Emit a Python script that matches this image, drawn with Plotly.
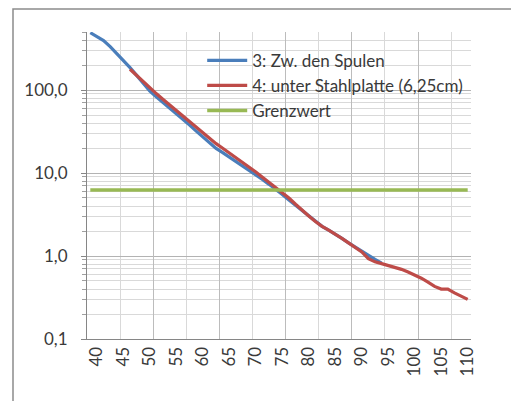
import plotly.graph_objects as go
import math

# categories (Abstand), step 1.25
categories = [38.75 + 1.25 * i for i in range(58)]

blue_vals = [490, 440, 395, 333, 276, 227, 186, 150, 121, 97,
             82, 70.5, 60.5, 52, 44.6, 37.8, 32, 27, 22.9, 19.8,
             17.6, 15.6, 13.8, 12.3, 10.9, 9.5, 8.35, 7.3, 6.4, 5.5,
             4.74, 4.09, 3.52, 3.03, 2.61, 2.28, 2.05, 1.84, 1.63, 1.44,
             1.28, 1.13, 1.01, 0.91, 0.82]

red_vals = [None] * 6 + [178, 149, 125, 105,
             90, 77, 66, 56.7, 48.6, 41.6, 35.6, 30.5, 26.1, 22.6,
             19.9, 17.5, 15.4, 13.5, 11.9, 10.3, 8.9, 7.7, 6.8, 5.9,
             4.99, 4.2, 3.54, 3.03, 2.61, 2.28, 2.05, 1.84, 1.63, 1.44,
             1.28, 1.12, 0.93, 0.85, 0.81, 0.77, 0.73, 0.69, 0.64, 0.59,
             0.54, 0.485, 0.43, 0.40, 0.40, 0.36, 0.33, 0.30]

grenzwert = [6.25] * len(categories)

names = ["3: Zw. den Spulen", "4: unter Stahlplatte (6,25cm)", "Grenzwert"]
colors = ["#4a7ebb", "#be4b48", "#98b954"]

x_labels = list(range(40, 111, 5))
y_labels_vals = [0.1, 1, 10, 100]
y_labels_text = ["0,1", "1,0", "10,0", "100,0"]
y_minor = [m * 10 ** e for e in range(-1, 3) for m in range(2, 10)]
y_minor = [v for v in y_minor if v <= 500]

half = 0.625
grid_light = [38.125 + 6.25 * k for k in range(1, 12, 2)]
grid_dark = [38.125 + 6.25 * k for k in range(2, 12, 2)]

fig = go.Figure()
fig.add_trace(go.Scatter(x=categories[:len(blue_vals)], y=blue_vals, mode="lines",
                         name=names[0], legendgroup="a",
                         line=dict(color=colors[0], width=3.2)))
fig.add_trace(go.Scatter(x=categories, y=red_vals, mode="lines",
                         name=names[1], legendgroup="b",
                         line=dict(color=colors[1], width=3.2)))
fig.add_trace(go.Scatter(x=categories, y=grenzwert, mode="lines",
                         name=names[2], legendgroup="c",
                         line=dict(color=colors[2], width=3.5)))
fig.add_trace(go.Scatter(x=[], y=[], xaxis="x2", showlegend=False, hoverinfo="skip"))

xr = [categories[0] - half, categories[-1] + half]
fnt = "Lato, Calibri, sans-serif"
tcol = "#3a3a3a"
fs = 17

fig.update_layout(
    width=511, height=401,
    margin=dict(l=87, r=40, t=32, b=62),
    paper_bgcolor="white", plot_bgcolor="white",
    font=dict(family=fnt, size=fs, color=tcol),
    showlegend=True,
    legend=dict(x=0.30, y=0.965, xanchor="left", yanchor="top",
                bgcolor="rgba(0,0,0,0)", borderwidth=0,
                font=dict(family=fnt, size=fs, color=tcol),
                traceorder="grouped", tracegroupgap=0,
                itemwidth=40),
    xaxis=dict(range=xr, tickmode="array", tickvals=x_labels,
               ticktext=[str(v) for v in x_labels], tickangle=-90,
               showgrid=False, showline=True, linecolor="#868686", linewidth=1,
               ticks="", zeroline=False, tickfont=dict(size=fs),
               minor=dict(tickmode="array", tickvals=grid_light, showgrid=True,
                          gridcolor="#d9d9d9", gridwidth=1, ticks="")),
    xaxis2=dict(range=xr, overlaying="x", anchor="y", side="bottom",
                tickmode="array", tickvals=grid_dark, showticklabels=False,
                showgrid=True, gridcolor="#bcbcbc", gridwidth=1, ticks="",
                zeroline=False, showline=False),
    yaxis=dict(type="log", range=[-1, math.log10(500)], tickmode="array",
               tickvals=y_labels_vals, ticktext=y_labels_text,
               showgrid=True, gridcolor="#b3b3b3", gridwidth=1,
               showline=True, linecolor="#868686", linewidth=1,
               ticks="outside", ticklen=5, tickcolor="#868686",
               ticklabelstandoff=10,
               tickfont=dict(size=fs), zeroline=False,
               minor=dict(tickmode="array", tickvals=y_minor, showgrid=True,
                          gridcolor="#d9d9d9", gridwidth=1, ticks="outside",
                          ticklen=4, tickcolor="#a0a0a0")),
    shapes=[dict(type="rect", xref="paper", yref="paper",
                 x0=(13 - 87) / 384, x1=1.2, y0=-0.3, y1=(339 - 9) / 307,
                 line=dict(color="#8c8c8c", width=1.5), layer="below")],
)

fig.write_html("out.html")
